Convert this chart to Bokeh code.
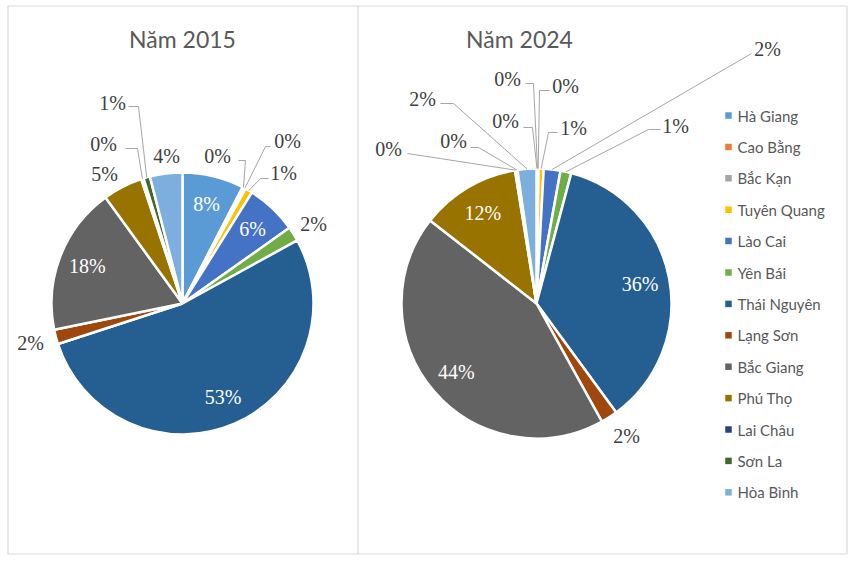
import math
from bokeh.plotting import figure
from bokeh.models import ColumnDataSource, Range1d
from bokeh.core.properties import value
from bokeh.embed import file_html
from bokeh.resources import INLINE

# ---------------- data ----------------
provinces = ["Hà Giang", "Cao Bằng", "Bắc Kạn", "Tuyên Quang", "Lào Cai", "Yên Bái",
             "Thái Nguyên", "Lạng Sơn", "Bắc Giang", "Phú Thọ", "Lai Châu", "Sơn La", "Hòa Bình"]
share_2015 = [7.6, 0.2, 0.2, 0.9, 6.3, 1.8, 53.0, 1.8, 18.2, 4.9, 0.3, 0.8, 4.0]
share_2024 = [0.1, 0.05, 0.1, 0.6, 2.0, 1.3, 35.8, 2.0, 43.6, 11.9, 0.15, 0.15, 2.25]
titles = ["Năm 2015", "Năm 2024"]

colors = ["#5B9BD5", "#ED7D31", "#A5A5A5", "#FFC000", "#4472C4", "#70AD47",
          "#255E91", "#9E480E", "#636363", "#997300", "#264478", "#43682B", "#7CAFDD"]

# ---------------- layout (page pixel coords) ----------------
W, H = 850, 558


def Y(py):
    return 565 - py


LABEL_FONT = value("Liberation Serif")
SANS = value("Lato")

# outside label layout: index -> (label x, label y, leader points before the pie edge)
outside_2015 = {
    1: (217, 155, [(238, 160), (245, 160)]),
    2: (287, 140, [(270, 146), (265, 146)]),
    3: (283, 172, [(268, 178), (260, 178)]),
    5: (313, 223, None),
    7: (30, 342, None),
    9: (104, 173, None),
    10: (103, 143, [(125, 148), (137, 148)]),
    11: (112, 102, [(128, 106), (138, 106)]),
    12: (166, 155, None),
}
inside_2015 = [0, 4, 6, 8]

outside_2024 = {
    0: (505, 120, [(523, 127), (532, 127)]),
    1: (507, 78, [(525, 83), (533, 83)]),
    2: (565, 85, [(549, 90), (539, 90)]),
    3: (573, 127, [(557, 132), (548, 132)]),
    4: (767, 48, [(751, 53)]),
    5: (675, 125, [(660, 129), (648, 129)]),
    7: (626, 435, None),
    10: (388, 148, [(407, 153)]),
    11: (453, 140, [(470, 147), (478, 147)]),
    12: (422, 98, [(440, 103), (453, 103)]),
}
inside_2024 = [6, 8, 9]

p = figure(width=W, height=H, output_backend="svg", toolbar_location=None,
           x_range=Range1d(0, W), y_range=Range1d(565 - H, 565),
           x_axis_type=None, y_axis_type=None, min_border=0)
p.grid.visible = False
p.outline_line_color = None
p.background_fill_color = "white"
p.border_fill_color = "white"

# frame
p.multi_line(xs=[[7.5, 846.5, 846.5, 7.5, 7.5], [357.5, 357.5]],
             ys=[[Y(5.5), Y(5.5), Y(553.5), Y(553.5), Y(5.5)], [Y(5.5), Y(553.5)]],
             line_color="#D9D9D9", line_width=1.2)


def draw_pie(values, cx, cy, r, inside, outside, title, tx):
    total = float(sum(values))
    cum = 0.0
    starts, ends = [], []
    for v in values:
        f0 = cum / total
        cum += v
        f1 = cum / total
        starts.append(math.pi / 2 - 2 * math.pi * f0)
        ends.append(math.pi / 2 - 2 * math.pi * f1)
    src = ColumnDataSource(dict(start=starts, end=ends, color=colors, name=provinces))
    p.wedge(x=cx, y=Y(cy), radius=r, start_angle="start", end_angle="end",
            direction="clock", fill_color="color", line_color="white",
            line_width=2.5, source=src)

    pct = ["%d%%" % int(v / total * 100 + 0.5) for v in values]

    # inside labels
    ix, iy, it = [], [], []
    for i in inside:
        a = (starts[i] + ends[i]) / 2
        ix.append(cx + 0.78 * r * math.cos(a))
        iy.append(Y(cy) + 0.78 * r * math.sin(a))
        it.append(pct[i])
    p.text(x=ix, y=iy, text=it, text_color="white", text_font=LABEL_FONT,
           text_font_size="20px", text_align="center", text_baseline="middle")

    # outside labels with leader lines
    ox, oy, ot, lxs, lys = [], [], [], [], []
    for i, (lx, ly, lead) in outside.items():
        ox.append(lx)
        oy.append(Y(ly))
        ot.append(pct[i])
        if lead:
            a = (starts[i] + ends[i]) / 2
            ex = cx + r * math.cos(a)
            ey = Y(cy) + r * math.sin(a)
            lxs.append([pt[0] for pt in lead] + [ex])
            lys.append([Y(pt[1]) for pt in lead] + [ey])
    p.multi_line(xs=lxs, ys=lys, line_color="#A6A6A6", line_width=1)
    p.text(x=ox, y=oy, text=ot, text_color="#404040", text_font=LABEL_FONT,
           text_font_size="20px", text_align="center", text_baseline="middle")

    p.text(x=[tx], y=[Y(38)], text=[title], text_color="#595959", text_font=SANS,
           text_font_size="23px", text_align="center", text_baseline="middle")


draw_pie(share_2015, 182, 303, 131, inside_2015, outside_2015, titles[0], 182)
draw_pie(share_2024, 536, 303, 135, inside_2024, outside_2024, titles[1], 519)

# legend
leg_y = [Y(115 + k * 31.4) for k in range(len(provinces))]
p.rect(x=[728] * len(provinces), y=leg_y, width=6.5, height=6.5, fill_color=colors,
       line_color=None)
p.text(x=[737] * len(provinces), y=leg_y, text=provinces, text_color="#595959",
       text_font=SANS, text_font_size="15px", text_align="left", text_baseline="middle")

open("out.html", "w").write(file_html(p, INLINE))
